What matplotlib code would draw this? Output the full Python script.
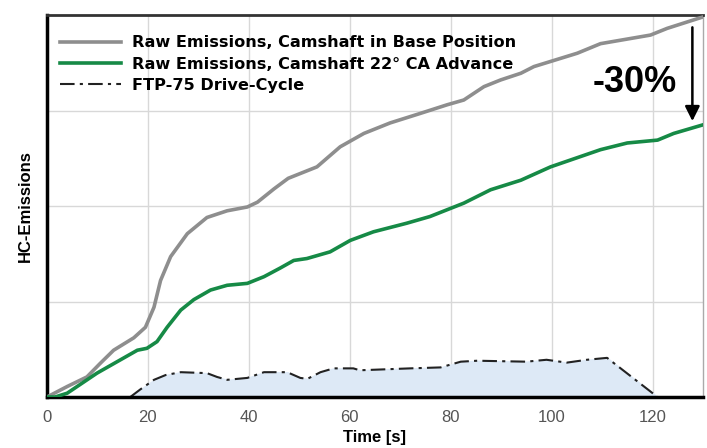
import matplotlib.pyplot as plt

# base camshaft position (gray)
t_base = [0, 4, 7.9, 10.5, 13.2, 17.2, 19.5, 21.2, 22.5, 24.5, 27.8, 31.7, 35.7, 39.7, 41.7,
          45, 47.8, 53.5, 58.1, 62.8, 68, 74, 79.3, 82.6, 86.6, 89.9, 93.9, 96.5, 105.1,
          109.7, 119.6, 122.9, 130]
hc_base = [0, 0.11, 0.21, 0.35, 0.49, 0.62, 0.73, 0.94, 1.22, 1.47, 1.71, 1.88, 1.95, 1.99,
           2.04, 2.18, 2.29, 2.41, 2.62, 2.76, 2.87, 2.97, 3.06, 3.11, 3.25, 3.32, 3.39,
           3.46, 3.60, 3.70, 3.79, 3.86, 3.98]

# 22 deg CA advance (green)
t_adv = [0, 1.6, 4, 9.9, 17.9, 19.8, 21.8, 23.8, 26.5, 29.1, 32.4, 35.7, 39.7, 43, 46.2,
         48.9, 51.5, 56.1, 60.1, 64.7, 71.3, 75.9, 82.6, 87.9, 93.9, 99.8, 109.7, 115, 121,
         124.2, 130]
hc_adv = [0, 0, 0.04, 0.25, 0.49, 0.51, 0.58, 0.73, 0.91, 1.02, 1.12, 1.17, 1.19, 1.26,
          1.35, 1.43, 1.45, 1.52, 1.64, 1.73, 1.82, 1.89, 2.03, 2.17, 2.27, 2.41, 2.59,
          2.66, 2.69, 2.76, 2.85]

# FTP-75 drive cycle (scaled speed)
t_cycle = [16.5, 18.5, 21.2, 23.5, 26.5, 31.7, 33.7, 35.7, 39.7, 43, 47.6, 50.2, 51.6, 54.2,
           56.8, 60.7, 62, 72, 78, 82, 85.3, 95, 99, 103, 107, 111, 121]
v_cycle = [0, 0.08, 0.18, 0.23, 0.26, 0.25, 0.21, 0.18, 0.20, 0.26, 0.26, 0.20, 0.19, 0.26,
           0.30, 0.30, 0.28, 0.30, 0.31, 0.37, 0.38, 0.37, 0.39, 0.36, 0.39, 0.41, 0]

x_ticks = [0, 20, 40, 60, 80, 100, 120]

plt.rcParams['font.family'] = ['Liberation Sans', 'DejaVu Sans']

fig = plt.figure(figsize=(7.07, 4.48), dpi=100)
ax = fig.add_axes([0.0665, 0.1138, 0.9278, 0.8527])

ax.fill_between(t_cycle, v_cycle, 0, color='#dde9f6', zorder=1)
ax.plot(t_base, hc_base, color='#8e8e8e', lw=2.6, label='Raw Emissions, Camshaft in Base Position',
        zorder=3, solid_joinstyle='round')
ax.plot(t_adv, hc_adv, color='#168a46', lw=2.6, label='Raw Emissions, Camshaft 22° CA Advance',
        zorder=3, solid_joinstyle='round')
ax.plot(t_cycle, v_cycle, color='#222222', lw=1.5, ls=(0, (7, 2.5, 1.5, 2.5)),
        label='FTP-75 Drive-Cycle', zorder=2)

ax.set_xlim(0, 130)
ax.set_ylim(0, 4)
ax.set_xticks(x_ticks)
ax.set_yticks([1, 2, 3])
ax.set_yticklabels([])
ax.grid(True, color='#d8d8d8', lw=1)
ax.set_axisbelow(True)
ax.tick_params(length=0, labelsize=12, labelcolor='#555555', pad=9)

for side in ['left', 'bottom']:
    ax.spines[side].set_linewidth(2.5)
    ax.spines[side].set_color('black')
ax.spines['top'].set_linewidth(2)
ax.spines['top'].set_color('#333333')
ax.spines['right'].set_linewidth(1)
ax.spines['right'].set_color('#aaaaaa')

ax.set_xlabel('Time [s]', fontsize=12, fontweight='bold', labelpad=4)
ax.set_ylabel('HC-Emissions', fontsize=12, fontweight='bold', labelpad=1)

leg = ax.legend(loc='upper left', bbox_to_anchor=(0.0, 0.981), frameon=False, handlelength=3.8,
                prop={'family': 'DejaVu Sans', 'weight': 'bold', 'size': 11.6},
                labelspacing=0.4, handletextpad=0.65, borderaxespad=0.4)

ax.annotate('', xy=(127.9, 2.86), xytext=(127.9, 3.90),
            arrowprops=dict(arrowstyle='-|>', color='black', lw=1.8, mutation_scale=22))
ax.text(116.5, 3.29, '-30%', fontsize=26, fontweight='bold', ha='center', va='center')

fig.savefig('out.png', dpi=100)
